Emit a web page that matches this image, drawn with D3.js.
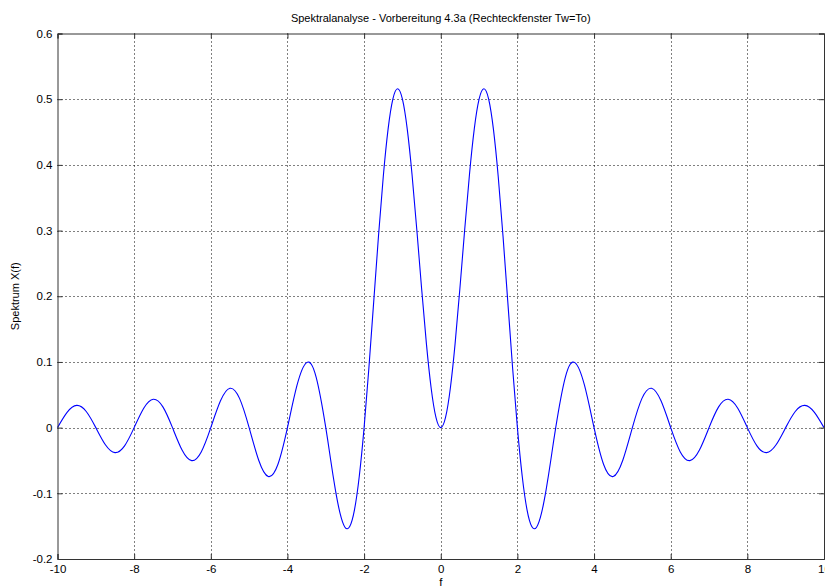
<!DOCTYPE html>
<html><head><meta charset="utf-8">
<script src="https://cdn.jsdelivr.net/npm/d3@7"></script>
<style>body{margin:0;background:#fff;} svg{display:block;font-family:"Liberation Sans",Arial,sans-serif;}</style>
</head><body><svg id="c" width="825" height="587"></svg>
<script>
const title = "Spektralanalyse - Vorbereitung 4.3a (Rechteckfenster Tw=To)";
const xLabel = "f";
const yLabel = "Spektrum X(f)";
const xTicks = [-10,-8,-6,-4,-2,0,2,4,6,8,10];
const yTicks = [-0.2,-0.1,0,0.1,0.2,0.3,0.4,0.5,0.6];
const fValues = [-10,-9.75,-9.5,-9.25,-9,-8.75,-8.5,-8.25,-8,-7.75,-7.5,-7.25,-7,-6.75,-6.5,-6.25,-6,-5.75,-5.5,-5.25,-5,-4.75,-4.5,-4.25,-4,-3.75,-3.5,-3.25,-3,-2.875,-2.75,-2.625,-2.5,-2.375,-2.25,-2.125,-2,-1.875,-1.75,-1.625,-1.5,-1.375,-1.25,-1.125,-1,-0.875,-0.75,-0.625,-0.5,-0.375,-0.25,-0.125,0,0.125,0.25,0.375,0.5,0.625,0.75,0.875,1,1.125,1.25,1.375,1.5,1.625,1.75,1.875,2,2.125,2.25,2.375,2.5,2.625,2.75,2.875,3,3.25,3.5,3.75,4,4.25,4.5,4.75,5,5.25,5.5,5.75,6,6.25,6.5,6.75,7,7.25,7.5,7.75,8,8.25,8.5,8.75,9,9.25,9.5,9.75,10];
const xValues = [0,0.0233,0.0339,0.0246,0,-0.0261,-0.0380,-0.0277,0,0.0295,0.0432,0.0316,0,-0.0341,-0.0502,-0.0370,0,0.0404,0.0599,0.0445,0,-0.0496,-0.0744,-0.0561,0,0.0646,0.0990,0.0765,0,-0.0482,-0.0943,-0.1310,-0.1516,-0.1505,-0.1247,-0.0736,0,0.0908,0.1910,0.2913,0.3820,0.4540,0.5002,0.5159,0.5,0.4548,0.3858,0.3016,0.2122,0.1283,0.0600,0.0155,0,0.0155,0.0600,0.1283,0.2122,0.3016,0.3858,0.4548,0.5,0.5159,0.5002,0.4540,0.3820,0.2913,0.1910,0.0908,0,-0.0736,-0.1247,-0.1505,-0.1516,-0.1310,-0.0943,-0.0482,0,0.0765,0.0990,0.0646,0,-0.0561,-0.0744,-0.0496,0,0.0445,0.0599,0.0404,0,-0.0370,-0.0502,-0.0341,0,0.0316,0.0432,0.0295,0,-0.0277,-0.0380,-0.0261,0,0.0246,0.0339,0.0233,0];

const L=57.5, R=824, T=33.5, B=559;
const svg = d3.select("#c");
const x = d3.scaleLinear().domain([-10,10]).range([L,R]);
const y = d3.scaleLinear().domain([-0.2,0.6]).range([B,T]);
const fmt = d => String(+(+d).toFixed(1));

// grid
const g = svg.append("g");
g.selectAll(".vx").data(xTicks.slice(1,-1)).enter().append("line")
 .attr("x1",d=>Math.round(x(d))+0.5).attr("x2",d=>Math.round(x(d))+0.5).attr("y1",T).attr("y2",B)
 .attr("stroke","#000").attr("stroke-width",1).attr("stroke-dasharray","1,3");
g.selectAll(".hy").data(yTicks.slice(1,-1)).enter().append("line")
 .attr("y1",d=>Math.round(y(d))+0.5).attr("y2",d=>Math.round(y(d))+0.5).attr("x1",L).attr("x2",R)
 .attr("stroke","#000").attr("stroke-width",1).attr("stroke-dasharray","1,3");

// curve
const line = d3.line().x((d,i)=>x(fValues[i])).y(d=>y(d)).curve(d3.curveNatural);
svg.append("path").datum(xValues).attr("d",line).attr("fill","none").attr("stroke","#0000ff").attr("stroke-width",1.1);

// axes
svg.append("g").attr("transform",`translate(0,${B})`)
 .call(d3.axisBottom(x).tickValues(xTicks).tickSize(-5).tickPadding(6).tickFormat(fmt));
svg.append("g").attr("transform",`translate(${L},0)`)
 .call(d3.axisLeft(y).tickValues(yTicks).tickSize(-5).tickPadding(5).tickFormat(fmt));
svg.append("g").attr("transform",`translate(0,${T})`)
 .call(d3.axisTop(x).tickValues(xTicks).tickSize(-5).tickFormat(""));
svg.append("g").attr("transform",`translate(${R},0)`)
 .call(d3.axisRight(y).tickValues(yTicks).tickSize(-5).tickFormat(""));
svg.selectAll(".domain").attr("stroke","#333");
svg.selectAll(".tick line").attr("stroke","#333");
svg.selectAll(".tick text").attr("font-size","11.5px").attr("fill","#000").attr("font-family","Liberation Sans, Arial, sans-serif");

svg.append("text").attr("x",(L+R)/2).attr("y",22).attr("text-anchor","middle").attr("font-size","11px").text(title);
svg.append("text").attr("x",(L+R)/2).attr("y",586).attr("text-anchor","middle").attr("font-size","11.5px").text(xLabel);
svg.append("text").attr("transform",`translate(19,${(T+B)/2}) rotate(-90)`).attr("text-anchor","middle").attr("font-size","11px").text(yLabel);
</script></body></html>
